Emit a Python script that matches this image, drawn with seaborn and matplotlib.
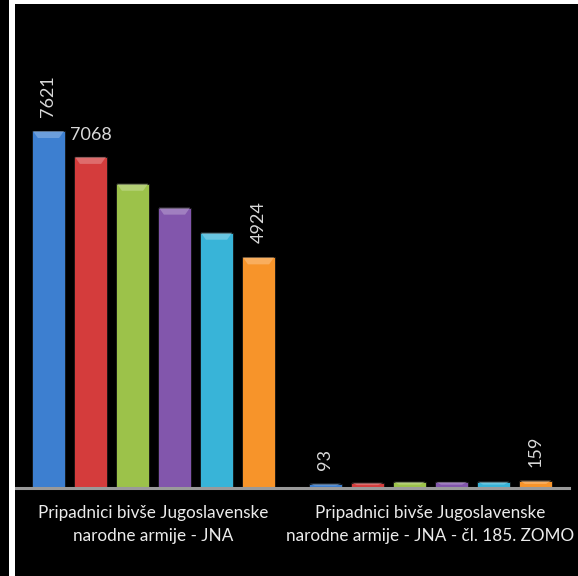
import matplotlib
matplotlib.use("Agg")
import matplotlib.pyplot as plt
from matplotlib.patches import Rectangle, Polygon
from matplotlib.colors import to_rgb
import pandas as pd
import seaborn as sns

# data
kategorije = ["Pripadnici bivše Jugoslavenske\nnarodne armije - JNA",
              "Pripadnici bivše Jugoslavenske\nnarodne armije - JNA - čl. 185. ZOMO"]
serije = ["S1", "S2", "S3", "S4", "S5", "S6"]
jna = [7621, 7068, 6495, 5985, 5450, 4924]
zomo = [93, 112, 132, 130, 134, 159]
boje = ["#3d7fd0", "#d43c3c", "#9cc24a", "#8256ac", "#38b4d8", "#f7942a"]
# (serija, kategorija, rotacija) -> which values carry a label
oznake = [(0, 0, 90), (1, 0, 0), (5, 0, 90), (0, 1, 90), (5, 1, 90)]

rows = []
for s, a, b in zip(serije, jna, zomo):
    rows.append({"kategorija": kategorije[0], "serija": s, "broj": a})
    rows.append({"kategorija": kategorije[1], "serija": s, "broj": b})
df = pd.DataFrame(rows)

sns.set_style("dark")
plt.rcParams['font.family'] = ['Lato', 'DejaVu Sans']

W, H = 578, 576
fig = plt.figure(figsize=(W / 100, H / 100), dpi=100, facecolor="black")
ax = fig.add_axes([15 / W, 88 / H, 554 / W, 483 / H])
ax.set_facecolor("black")

sns.barplot(data=df, x="kategorija", y="broj", hue="serija", palette=boje,
            saturation=1, width=0.91, gap=0.21, legend=False, ax=ax,
            errorbar=None, edgecolor="#141414", linewidth=0.6)

ax.set_xlim(-0.5, 1.5)
ax.set_ylim(0, 483 / ((488 - 131) / 7621))
ax.set_xlabel("")
ax.set_ylabel("")
ax.set_yticks([])
ax.grid(False)
for side in ["top", "right", "left"]:
    ax.spines[side].set_visible(False)
ax.spines["bottom"].set_visible(True)
ax.spines["bottom"].set_color("#9a9a9a")
ax.spines["bottom"].set_linewidth(2.2)
ax.spines["bottom"].set_zorder(5)
ax.tick_params(axis="x", length=0, pad=12, colors="#ececec", labelsize=12.3)
for t in ax.get_xticklabels():
    t.set_linespacing(1.55)

# bevelled top of each bar (lighter trapezoid)
fig.canvas.draw()
to_disp = ax.transData
to_data = ax.transData.inverted()
for cont, c in zip(ax.containers, boje):
    light = tuple(min(1, v * 0.55 + 0.45) for v in to_rgb(c))
    for bar in cont:
        x0, x1 = bar.get_x(), bar.get_x() + bar.get_width()
        top = bar.get_height()
        (px0, py), (px1, _) = to_disp.transform([(x0, top), (x1, top)])
        depth = min(7, (py - to_disp.transform((0, 0))[1]) * 0.45)
        pts = to_data.transform([(px0 + 1, py), (px1 - 1, py),
                                 (px1 - 6, py - depth), (px0 + 6, py - depth)])
        ax.add_patch(Polygon(pts, closed=True, facecolor=light, alpha=0.55,
                             edgecolor="none", zorder=3))

for s_i, c_i, rot in oznake:
    bar = ax.containers[s_i][c_i]
    x = bar.get_x() + bar.get_width() / 2
    y = bar.get_height()
    ax.annotate(f"{int(y)}", (x, y), xytext=(0, 10), textcoords="offset points",
                ha="center", va="bottom", rotation=rot, color="#d9d9d9",
                fontsize=13)

# white frame strips as in the original slide
fig.patches.append(Rectangle((9 / W, 0), 6 / W, 1, transform=fig.transFigure,
                             facecolor="white", edgecolor="none"))
fig.patches.append(Rectangle((15 / W, 1 - 4 / H), 1, 4 / H, transform=fig.transFigure,
                             facecolor="white", edgecolor="none"))

fig.savefig("out.png", dpi=100, facecolor="black")
